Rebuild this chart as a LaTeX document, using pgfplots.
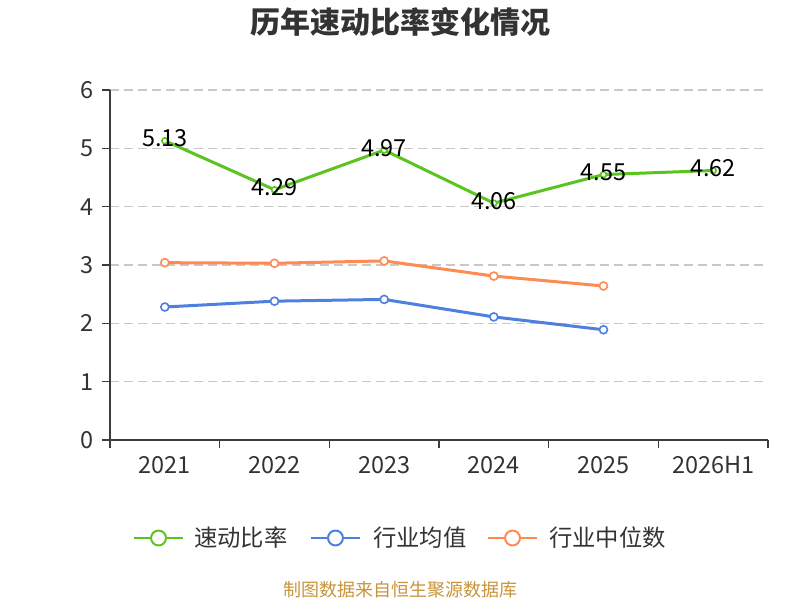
\documentclass[border=0pt]{standalone}
\usepackage{fontspec}
\setmainfont{Noto Sans CJK SC}
\usepackage{pgfplots}
\pgfplotsset{compat=1.18}
\definecolor{cgreen}{RGB}{91,196,32}
\definecolor{cblue}{RGB}{78,128,224}
\definecolor{corange}{RGB}{255,138,82}
\definecolor{ctext}{RGB}{51,51,51}
\definecolor{caxis}{RGB}{60,60,60}
\definecolor{cgrid}{RGB}{200,200,200}
\definecolor{csrc}{RGB}{200,148,58}
\begin{document}
\begin{tikzpicture}
\path[use as bounding box] (-82.5pt,-120pt) rectangle (517.5pt,330pt);
\begin{axis}[
  scale only axis, width=493.5pt, height=262.5pt,
  xmin=-0.5, xmax=5.5, ymin=0, ymax=6,
  axis lines=left, axis line style={-, draw=caxis, line width=1.1pt},
  xtick={-0.5,0.5,1.5,2.5,3.5,4.5,5.5},
  x tick label as interval,
  xticklabels={2021,2022,2023,2024,2025,2026H1},
  ytick={0,1,2,3,4,5,6},
  tick align=outside,
  major tick length=6pt,
  tick style={draw=caxis, line width=1.1pt},
  ymajorgrids,
  grid style={cgrid, line width=0.9pt, dash pattern=on 6.5pt off 4pt},
  /pgf/number format/assume math mode=true,
  ticklabel style={font=\fontsize{17.6}{20}\selectfont, text=ctext},
  yticklabel style={xshift=-2.5pt},
  xticklabel style={yshift=-3pt},
  clip=false,
]
\addplot[cgreen, line width=2.25pt, mark=*, mark size=2.2pt,
  mark options={fill=white, draw=cgreen, line width=1.2pt},
  nodes near coords, point meta=explicit symbolic,
  every node near coord/.style={anchor=center, yshift=1.8pt, text=black, font=\fontsize{17.6}{20}\selectfont}]
  coordinates {(0,5.13)[5.13] (1,4.29)[4.29] (2,4.97)[4.97] (3,4.06)[4.06] (4,4.55)[4.55] (5,4.62)[4.62]};
\addplot[cblue, line width=2.25pt, mark=*, mark size=3pt,
  mark options={fill=white, draw=cblue, line width=1.2pt}]
  coordinates {(0,2.28) (1,2.38) (2,2.41) (3,2.11) (4,1.89)};
\addplot[corange, line width=2.25pt, mark=*, mark size=3pt,
  mark options={fill=white, draw=corange, line width=1.2pt}]
  coordinates {(0,3.04) (1,3.03) (2,3.07) (3,2.81) (4,2.64)};
\end{axis}
% title
\node[font=\fontsize{22.5}{26}\selectfont\bfseries, text=ctext] at (217.5pt,313.5pt) {历年速动比率变化情况};
% legend
\begin{scope}[line width=1.5pt]
\draw[cgreen] (18pt,-73.5pt) -- (54.75pt,-73.5pt);
\draw[cgreen, fill=white] (36.4pt,-73.5pt) circle (5.6pt);
\node[anchor=west, inner sep=0pt, text=ctext, font=\fontsize{17.5}{20}\selectfont] at (62.25pt,-73.5pt) {速动比率};
\draw[cblue] (150.75pt,-73.5pt) -- (187.5pt,-73.5pt);
\draw[cblue, fill=white] (169.1pt,-73.5pt) circle (5.6pt);
\node[anchor=west, inner sep=0pt, text=ctext, font=\fontsize{17.5}{20}\selectfont] at (196.5pt,-73.5pt) {行业均值};
\draw[corange] (283.5pt,-73.5pt) -- (320.25pt,-73.5pt);
\draw[corange, fill=white] (301.9pt,-73.5pt) circle (5.6pt);
\node[anchor=west, inner sep=0pt, text=ctext, font=\fontsize{17.5}{20}\selectfont] at (328.5pt,-73.5pt) {行业中位数};
\end{scope}
\node[text=csrc, font=\fontsize{13.5}{16}\selectfont] at (217.5pt,-112.5pt) {制图数据来自恒生聚源数据库};
\end{tikzpicture}
\end{document}
